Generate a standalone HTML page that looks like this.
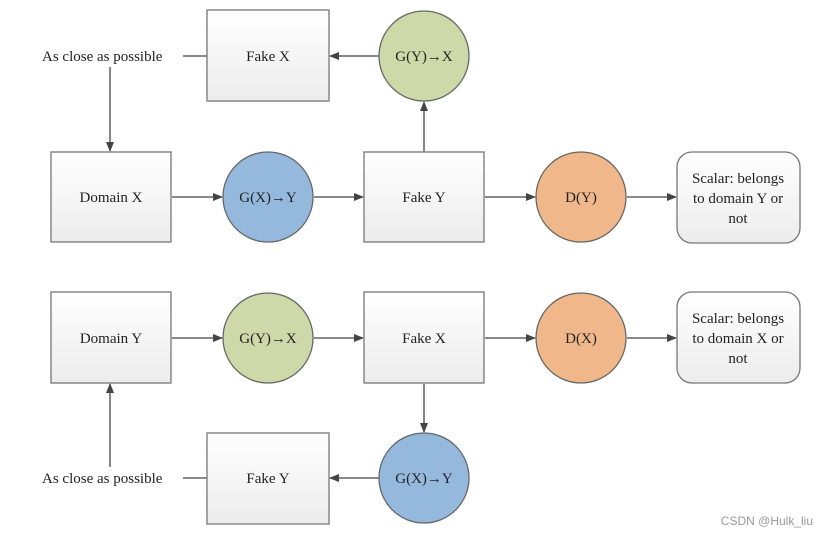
<!DOCTYPE html>
<html><head><style>body{margin:0;background:#fff}</style></head><body>
<svg width="827" height="536" viewBox="0 0 827 536" xmlns="http://www.w3.org/2000/svg" font-family="Liberation Serif, serif" font-size="15" fill="#222">
<defs>
<linearGradient id="g" x1="0" y1="0" x2="0" y2="1"><stop offset="0" stop-color="#ffffff"/><stop offset="1" stop-color="#ececec"/></linearGradient>
<marker id="a" markerWidth="10" markerHeight="10" refX="9" refY="5" orient="auto" markerUnits="userSpaceOnUse"><path d="M0,1 L10,5 L0,9 z" fill="#444"/></marker>
</defs>
<g stroke="#444" stroke-width="1.3" fill="none">
<!-- top -->
<line x1="379" y1="56" x2="330" y2="56" marker-end="url(#a)"/>
<line x1="183" y1="56" x2="207" y2="56"/>
<line x1="110" y1="67" x2="110" y2="151" marker-end="url(#a)"/>
<line x1="424" y1="152" x2="424" y2="102" marker-end="url(#a)"/>
<line x1="172" y1="197" x2="222" y2="197" marker-end="url(#a)"/>
<line x1="314" y1="197" x2="363" y2="197" marker-end="url(#a)"/>
<line x1="485" y1="197" x2="535" y2="197" marker-end="url(#a)"/>
<line x1="627" y1="197" x2="676" y2="197" marker-end="url(#a)"/>
<!-- bottom -->
<line x1="172" y1="338" x2="222" y2="338" marker-end="url(#a)"/>
<line x1="314" y1="338" x2="363" y2="338" marker-end="url(#a)"/>
<line x1="485" y1="338" x2="535" y2="338" marker-end="url(#a)"/>
<line x1="627" y1="338" x2="676" y2="338" marker-end="url(#a)"/>
<line x1="424" y1="384" x2="424" y2="432" marker-end="url(#a)"/>
<line x1="379" y1="478" x2="330" y2="478" marker-end="url(#a)"/>
<line x1="183" y1="478" x2="207" y2="478"/>
<line x1="110" y1="467" x2="110" y2="384" marker-end="url(#a)"/>
</g>
<g stroke="#777" stroke-width="1.3" fill="url(#g)">
<rect x="207" y="10" width="122" height="91"/>
<rect x="51" y="152" width="120" height="90"/>
<rect x="364" y="152" width="120" height="90"/>
<rect x="677" y="152" width="123" height="91" rx="15"/>
<rect x="51" y="292" width="120" height="91"/>
<rect x="364" y="292" width="120" height="91"/>
<rect x="677" y="292" width="123" height="91" rx="15"/>
<rect x="207" y="433" width="122" height="91"/>
</g>
<g stroke="#666" stroke-width="1.3">
<circle cx="424" cy="56" r="45" fill="#cdd9a9"/>
<circle cx="268" cy="197" r="45" fill="#95b9dc"/>
<circle cx="581" cy="197" r="45" fill="#f0b88a"/>
<circle cx="268" cy="338" r="45" fill="#cdd9a9"/>
<circle cx="581" cy="338" r="45" fill="#f0b88a"/>
<circle cx="424" cy="478" r="45" fill="#95b9dc"/>
</g>
<g text-anchor="middle">
<text x="268" y="61">Fake X</text>
<text x="424" y="61">G(Y)→X</text>
<text x="111" y="202">Domain X</text>
<text x="268" y="202">G(X)→Y</text>
<text x="424" y="202">Fake Y</text>
<text x="581" y="202">D(Y)</text>
<text x="738" y="183">Scalar: belongs</text>
<text x="738" y="203">to domain Y or</text>
<text x="738" y="223">not</text>
<text x="111" y="343">Domain Y</text>
<text x="268" y="343">G(Y)→X</text>
<text x="424" y="343">Fake X</text>
<text x="581" y="343">D(X)</text>
<text x="738" y="323">Scalar: belongs</text>
<text x="738" y="343">to domain X or</text>
<text x="738" y="363">not</text>
<text x="268" y="483">Fake Y</text>
<text x="424" y="483">G(X)→Y</text>
</g>
<text x="42" y="61">As close as possible</text>
<text x="42" y="483">As close as possible</text>
<text x="813" y="525" text-anchor="end" font-family="Liberation Sans, sans-serif" font-size="12" fill="#999">CSDN @Hulk_liu</text>
</svg>
</body></html>
